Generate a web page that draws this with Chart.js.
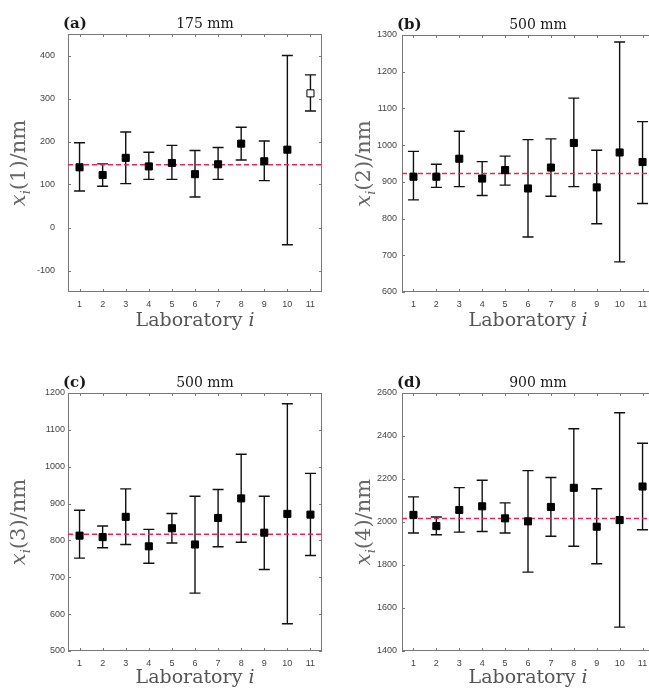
<!DOCTYPE html>
<html>
<head>
<meta charset="utf-8">
<script src="https://cdn.jsdelivr.net/npm/chart.js@4.4.1/dist/chart.umd.min.js"></script>
<style>
  body { margin: 0; background: #fff; width: 649px; height: 691px; overflow: hidden; position: relative; }
  canvas { position: absolute; }
</style>
</head>
<body>
<canvas id="cA" width="330" height="345" style="left:0;top:0"></canvas>
<canvas id="cB" width="330" height="345" style="left:330px;top:0"></canvas>
<canvas id="cC" width="330" height="346" style="left:0;top:345px"></canvas>
<canvas id="cD" width="330" height="346" style="left:330px;top:345px"></canvas>
<script>
// laboratorios
var labs = [1, 2, 3, 4, 5, 6, 7, 8, 9, 10, 11];

// (a) 175 mm
var valA  = [140, 122, 162, 142, 150, 124, 147, 195, 154, 181, 312];
var highA = [197, 148, 222, 175, 191, 179, 186, 233, 201, 400, 355];
var lowA  = [85, 96, 102, 112, 112, 71, 112, 157, 109, -40, 271];
var refA = 146;
var hollowA = [11];
var yTicksA = [-100, 0, 100, 200, 300, 400];

// (b) 500 mm
var valB  = [914, 914, 963, 909, 932, 882, 939, 1006, 885, 980, 954];
var highB = [983, 948, 1038, 955, 970, 1015, 1017, 1128, 986, 1281, 1064];
var lowB  = [851, 885, 887, 863, 891, 750, 861, 887, 786, 682, 841];
var refB = 923;
var yTicksB = [600, 700, 800, 900, 1000, 1100, 1200, 1300];

// (c) 500 mm
var valC  = [813, 809, 864, 784, 833, 789, 861, 914, 821, 872, 870];
var highC = [882, 839, 940, 830, 873, 920, 938, 1034, 920, 1171, 982];
var lowC  = [752, 780, 789, 738, 793, 657, 783, 795, 721, 574, 759];
var refC = 817;
var yTicksC = [500, 600, 700, 800, 900, 1000, 1100, 1200];

// (d) 900 mm
var valD  = [2033, 1981, 2056, 2073, 2017, 2003, 2070, 2159, 1978, 2009, 2165];
var highD = [2117, 2023, 2160, 2194, 2089, 2239, 2207, 2434, 2155, 2508, 2366];
var lowD  = [1949, 1941, 1953, 1956, 1949, 1767, 1934, 1887, 1806, 1511, 1964];
var refD = 2016;
var yTicksD = [1400, 1600, 1800, 2000, 2200, 2400, 2600];

var serif = '"DejaVu Serif", serif';

// caja, barras de error y textos
var panelDeco = {
  id: 'panelDeco',
  beforeDatasetsDraw: function (chart, args, o) {
    var ctx = chart.ctx, a = chart.chartArea;
    var x = chart.scales.x, y = chart.scales.y;
    ctx.save();
    // caja
    ctx.strokeStyle = '#777';
    ctx.lineWidth = 1;
    ctx.strokeRect(a.left + 0.5, a.top + 0.5, a.right - a.left - 1, a.bottom - a.top - 1);
    ctx.beginPath();
    o.labs.forEach(function (l) {
      var px = Math.round(x.getPixelForValue(l)) + 0.5;
      ctx.moveTo(px, a.bottom); ctx.lineTo(px, a.bottom - 3);
      ctx.moveTo(px, a.top); ctx.lineTo(px, a.top + 3);
    });
    o.yTicks.forEach(function (v) {
      var py = Math.round(y.getPixelForValue(v)) + 0.5;
      ctx.moveTo(a.left, py); ctx.lineTo(a.left + 3, py);
      ctx.moveTo(a.right, py); ctx.lineTo(a.right - 3, py);
    });
    ctx.stroke();
    // barras de error
    ctx.strokeStyle = '#111';
    ctx.lineWidth = 1.4;
    ctx.beginPath();
    o.labs.forEach(function (l, i) {
      var px = x.getPixelForValue(l);
      var yHi = y.getPixelForValue(o.high[i]);
      var yLo = y.getPixelForValue(o.low[i]);
      ctx.moveTo(px, yHi); ctx.lineTo(px, yLo);
      ctx.moveTo(px - 5.5, yHi); ctx.lineTo(px + 5.5, yHi);
      ctx.moveTo(px - 5.5, yLo); ctx.lineTo(px + 5.5, yLo);
    });
    ctx.stroke();
    ctx.restore();
  },
  afterDraw: function (chart, args, o) {
    var ctx = chart.ctx, a = chart.chartArea;
    var cx = (a.left + a.right) / 2;
    ctx.save();
    // titulo
    ctx.fillStyle = '#1a1a1a';
    ctx.textBaseline = 'alphabetic';
    ctx.textAlign = 'left';
    ctx.font = 'bold 15px ' + serif;
    ctx.fillText(o.tag, a.left - 5, a.top - 6);
    ctx.textAlign = 'center';
    ctx.font = '14px ' + serif;
    ctx.fillText(o.title, cx + 10, a.top - 6);
    // eje x
    ctx.fillStyle = '#555';
    ctx.textAlign = 'left';
    ctx.font = '19px ' + serif;
    var w1 = ctx.measureText('Laboratory ').width;
    ctx.font = 'italic 19px ' + serif;
    var w2 = ctx.measureText('i').width;
    var sx = cx - (w1 + w2) / 2;
    ctx.font = '19px ' + serif;
    ctx.fillText('Laboratory ', sx, a.bottom + o.xLabY);
    ctx.font = 'italic 19px ' + serif;
    ctx.fillText('i', sx + w1, a.bottom + o.xLabY);
    // eje y
    var parts = [
      { t: 'x', f: 'italic 21px ' + serif, dy: 0 },
      { t: 'i', f: 'italic 13px ' + serif, dy: 5 },
      { t: '(' + o.num + ')/nm', f: '21px ' + serif, dy: 0 }
    ];
    var tot = 0;
    parts.forEach(function (p) { ctx.font = p.f; p.w = ctx.measureText(p.t).width; tot += p.w; });
    ctx.translate(a.left - o.yLabX, (a.top + a.bottom) / 2);
    ctx.rotate(-Math.PI / 2);
    ctx.fillStyle = '#666';
    var px = -tot / 2;
    parts.forEach(function (p) { ctx.font = p.f; ctx.fillText(p.t, px, p.dy); px += p.w; });
    ctx.restore();
  }
};

function makePanel(id, p) {
  var ctx = document.getElementById(id);
  return new Chart(ctx, {
    type: 'scatter',
    data: {
      datasets: [
        {
          type: 'scatter',
          data: labs.map(function (l, i) { return { x: l, y: p.vals[i] }; }),
          pointStyle: 'rect',
          pointRadius: 5,
          pointBackgroundColor: labs.map(function (l) { return p.hollow.indexOf(l) >= 0 ? '#fff' : '#000'; }),
          pointBorderColor: '#000',
          pointBorderWidth: 1,
          order: 1
        },
        {
          type: 'line',
          data: [{ x: 0.5, y: p.ref }, { x: 11.5, y: p.ref }],
          borderColor: '#dc2a5a',
          borderDash: [5, 3],
          borderWidth: 1.5,
          pointRadius: 0,
          order: 2
        }
      ]
    },
    options: {
      responsive: false,
      animation: false,
      events: [],
      layout: { padding: { left: 0, right: p.padR, top: p.padT, bottom: 0 } },
      plugins: {
        legend: { display: false },
        tooltip: { enabled: false },
        panelDeco: {
          labs: labs, high: p.high, low: p.low, yTicks: p.yTicks,
          tag: p.tag, title: p.title, num: p.num, xLabY: p.xLabY, yLabX: p.yLabX
        }
      },
      scales: {
        x: {
          type: 'linear', min: 0.5, max: 11.5,
          afterBuildTicks: function (s) { s.ticks = labs.map(function (v) { return { value: v }; }); },
          afterFit: function (s) { s.height = p.xH; },
          grid: { display: false, drawTicks: false },
          border: { display: false },
          ticks: { padding: 7, color: '#444', font: { family: 'Liberation Sans', size: 9 },
            callback: function (v) { return String(v); } }
        },
        y: {
          min: p.yMin, max: p.yMax,
          afterBuildTicks: function (s) { s.ticks = p.yTicks.map(function (v) { return { value: v }; }); },
          afterFit: function (s) { s.width = p.yW; },
          grid: { display: false, drawTicks: false },
          border: { display: false },
          ticks: { padding: p.yPad, color: '#444', font: { family: 'Liberation Sans', size: 9 },
            callback: function (v) { return String(v); } }
        }
      }
    },
    plugins: [panelDeco]
  });
}

makePanel('cA', { vals: valA, high: highA, low: lowA, ref: refA, hollow: hollowA, yTicks: yTicksA,
  yMin: -150, yMax: 450, tag: '(a)', title: '175 mm', num: '1',
  padR: 8, padT: 34, yW: 68, xH: 53, yPad: 13, xLabY: 34, yLabX: 43 });
makePanel('cB', { vals: valB, high: highB, low: lowB, ref: refB, hollow: [], yTicks: yTicksB,
  yMin: 600, yMax: 1300, tag: '(b)', title: '500 mm', num: '2',
  padR: 5, padT: 35, yW: 72, xH: 53, yPad: 5, xLabY: 34, yLabX: 32 });
makePanel('cC', { vals: valC, high: highC, low: lowC, ref: refC, hollow: [], yTicks: yTicksC,
  yMin: 500, yMax: 1200, tag: '(c)', title: '500 mm', num: '3',
  padR: 8, padT: 48, yW: 68, xH: 40, yPad: 3, xLabY: 32, yLabX: 43 });
makePanel('cD', { vals: valD, high: highD, low: lowD, ref: refD, hollow: [], yTicks: yTicksD,
  yMin: 1400, yMax: 2600, tag: '(d)', title: '900 mm', num: '4',
  padR: 5, padT: 48, yW: 72, xH: 40, yPad: 5, xLabY: 32, yLabX: 32 });
</script>
</body>
</html>
